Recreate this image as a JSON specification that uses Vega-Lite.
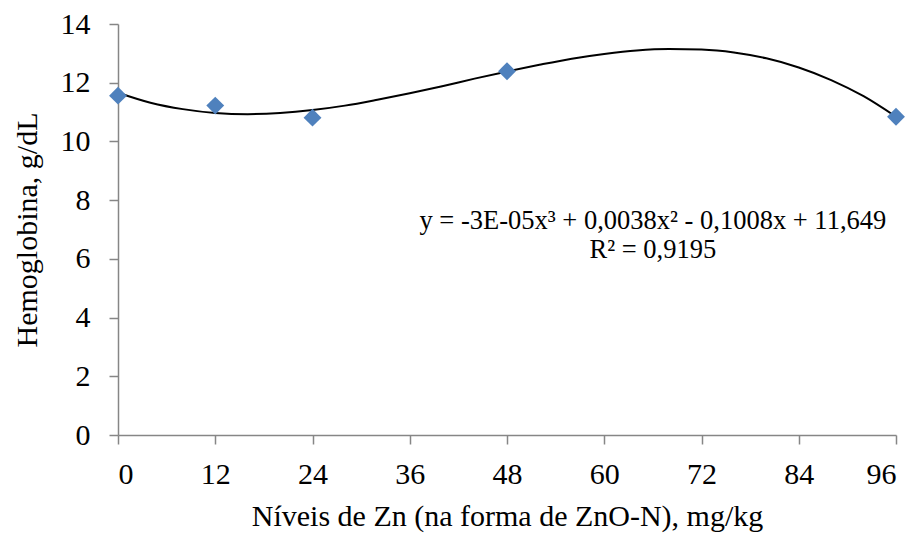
{
  "$schema": "https://vega.github.io/schema/vega-lite/v6.json",
  "width": 778,
  "height": 411,
  "autosize": "none",
  "padding": {"left": 118, "top": 24, "right": 21, "bottom": 99},
  "background": "white",
  "config": {
    "view": {"stroke": null},
    "font": "Liberation Serif",
    "axis": {
      "grid": false,
      "domainColor": "#868686",
      "tickColor": "#868686",
      "domainWidth": 1.5,
      "tickWidth": 1.5,
      "tickSize": 9,
      "labelFont": "Liberation Serif",
      "titleFont": "Liberation Serif",
      "labelFontSize": 30,
      "titleFontSize": 30,
      "labelColor": "black",
      "titleColor": "black",
      "titleFontWeight": "normal"
    }
  },
  "datasets": {
    "points": [
      {"x": 0, "y": 11.56},
      {"x": 12, "y": 11.22},
      {"x": 24, "y": 10.81},
      {"x": 48, "y": 12.39},
      {"x": 96, "y": 10.84}
    ],
    "curve": [
      {"x": 0, "y": 11.66}, {"x": 4, "y": 11.32}, {"x": 8, "y": 11.10}, {"x": 12, "y": 10.97},
      {"x": 16, "y": 10.93}, {"x": 20, "y": 10.97}, {"x": 24, "y": 11.07}, {"x": 28, "y": 11.22},
      {"x": 32, "y": 11.42}, {"x": 36, "y": 11.64}, {"x": 40, "y": 11.88}, {"x": 44, "y": 12.14},
      {"x": 48, "y": 12.38}, {"x": 52, "y": 12.61}, {"x": 56, "y": 12.82}, {"x": 60, "y": 12.98},
      {"x": 64, "y": 13.10}, {"x": 68, "y": 13.15}, {"x": 72, "y": 13.13}, {"x": 76, "y": 13.03},
      {"x": 80, "y": 12.83}, {"x": 84, "y": 12.52}, {"x": 88, "y": 12.09}, {"x": 92, "y": 11.54},
      {"x": 96, "y": 10.84}
    ],
    "labels": [
      {"x": 66, "y": 7.28, "t": "y = -3E-05x³ + 0,0038x² - 0,1008x + 11,649"},
      {"x": 66, "y": 6.29, "t": "R² = 0,9195"}
    ]
  },
  "layer": [
    {
      "data": {"name": "curve"},
      "mark": {"type": "line", "color": "black", "strokeWidth": 2, "interpolate": "monotone"},
      "encoding": {
        "x": {
          "field": "x", "type": "quantitative",
          "scale": {"domain": [0, 96], "nice": false, "zero": false},
          "axis": {"values": [0, 12, 24, 36, 48, 60, 72, 84, 96], "labelPadding": 15,
                   "title": "Níveis de Zn (na forma de ZnO-N), mg/kg", "titlePadding": 12}
        },
        "y": {
          "field": "y", "type": "quantitative",
          "scale": {"domain": [0, 14], "nice": false},
          "axis": {"values": [0, 2, 4, 6, 8, 10, 12, 14], "labelPadding": 19,
                   "title": "Hemoglobina, g/dL", "titlePadding": 18}
        }
      }
    },
    {
      "data": {"name": "points"},
      "mark": {"type": "point", "shape": "diamond", "filled": true, "color": "#4F81BD", "opacity": 1, "size": 320},
      "encoding": {
        "x": {"field": "x", "type": "quantitative"},
        "y": {"field": "y", "type": "quantitative"}
      }
    },
    {
      "data": {"name": "labels"},
      "mark": {"type": "text", "font": "Liberation Serif", "fontSize": 26.5, "color": "black", "align": "center", "baseline": "middle"},
      "encoding": {
        "x": {"field": "x", "type": "quantitative"},
        "y": {"field": "y", "type": "quantitative"},
        "text": {"field": "t"}
      }
    }
  ]
}
